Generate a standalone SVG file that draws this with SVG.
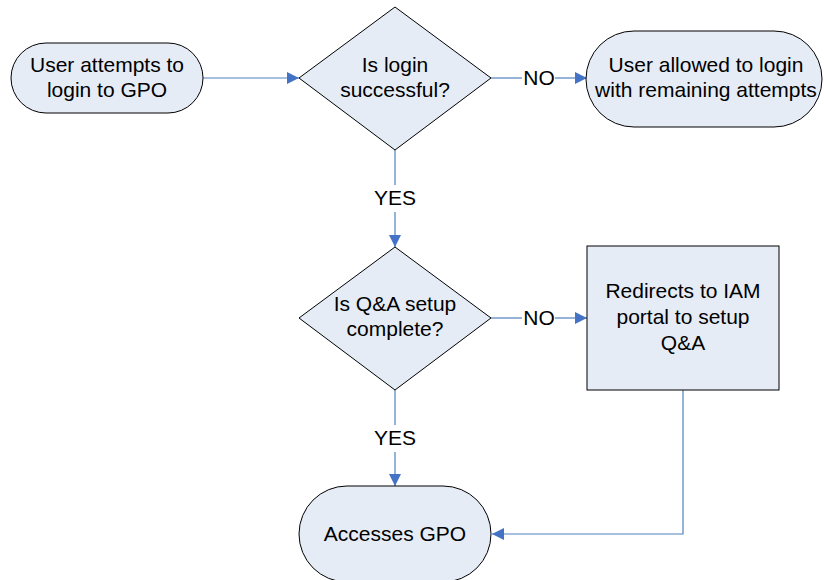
<svg xmlns="http://www.w3.org/2000/svg" width="824" height="580" viewBox="0 0 824 580">
<style>
.shape{fill:#E6ECF6;stroke:#000;stroke-width:1}
.t{font-family:"Liberation Sans",Arial,sans-serif;font-size:21px;fill:#000;text-anchor:middle}
.c{fill:none;stroke:#4F81BD;stroke-width:1.2}
</style>
<defs>
<marker id="ah" viewBox="0 0 10 10" refX="10" refY="5" markerWidth="15" markerHeight="12" markerUnits="userSpaceOnUse" orient="auto">
<path d="M0,0 L10,5 L0,10 z" fill="#4472C4"/>
</marker>
</defs>
<rect width="824" height="580" fill="#fff"/>
<g id="connectors">
<line class="c" x1="203" y1="78" x2="299" y2="78" marker-end="url(#ah)"/>
<line class="c" x1="491" y1="78" x2="522" y2="78"/>
<line class="c" x1="555" y1="78" x2="587" y2="78" marker-end="url(#ah)"/>
<text class="t" x="539" y="85">NO</text>
<line class="c" x1="395" y1="150" x2="395" y2="185"/>
<line class="c" x1="395" y1="212" x2="395" y2="247" marker-end="url(#ah)"/>
<text class="t" x="395" y="205">YES</text>
<line class="c" x1="491" y1="318" x2="522" y2="318"/>
<line class="c" x1="555" y1="318" x2="587" y2="318" marker-end="url(#ah)"/>
<text class="t" x="539" y="325">NO</text>
<line class="c" x1="395" y1="390" x2="395" y2="425"/>
<line class="c" x1="395" y1="452" x2="395" y2="486" marker-end="url(#ah)"/>
<text class="t" x="395" y="445">YES</text>
<polyline class="c" points="683,390 683,534 492,534" marker-end="url(#ah)"/>
</g>
<g id="start">
<rect class="shape" x="11" y="43" width="192" height="70" rx="35" ry="35"/>
<text class="t" x="107" y="72">User attempts to</text>
<text class="t" x="107" y="97">login to GPO</text>
</g>
<g id="decision1">
<polygon class="shape" points="395,7 491,78 395,150 299,78"/>
<text class="t" x="395" y="72">Is login</text>
<text class="t" x="395" y="97">successful?</text>
</g>
<g id="retry">
<rect class="shape" x="586" y="31" width="236" height="96" rx="48" ry="48"/>
<text class="t" x="706" y="72">User allowed to login</text>
<text class="t" x="706" y="97">with remaining attempts</text>
</g>
<g id="decision2">
<polygon class="shape" points="395,247 491,318 395,390 299,318"/>
<text class="t" x="395" y="311">Is Q&amp;A setup</text>
<text class="t" x="395" y="336">complete?</text>
</g>
<g id="redirect">
<rect class="shape" x="587" y="246" width="192" height="144"/>
<text class="t" x="683" y="298">Redirects to IAM</text>
<text class="t" x="683" y="324">portal to setup</text>
<text class="t" x="683" y="350">Q&amp;A</text>
</g>
<g id="access">
<rect class="shape" x="299" y="486" width="192" height="96" rx="48" ry="48"/>
<text class="t" x="395" y="541">Accesses GPO</text>
</g>
</svg>
